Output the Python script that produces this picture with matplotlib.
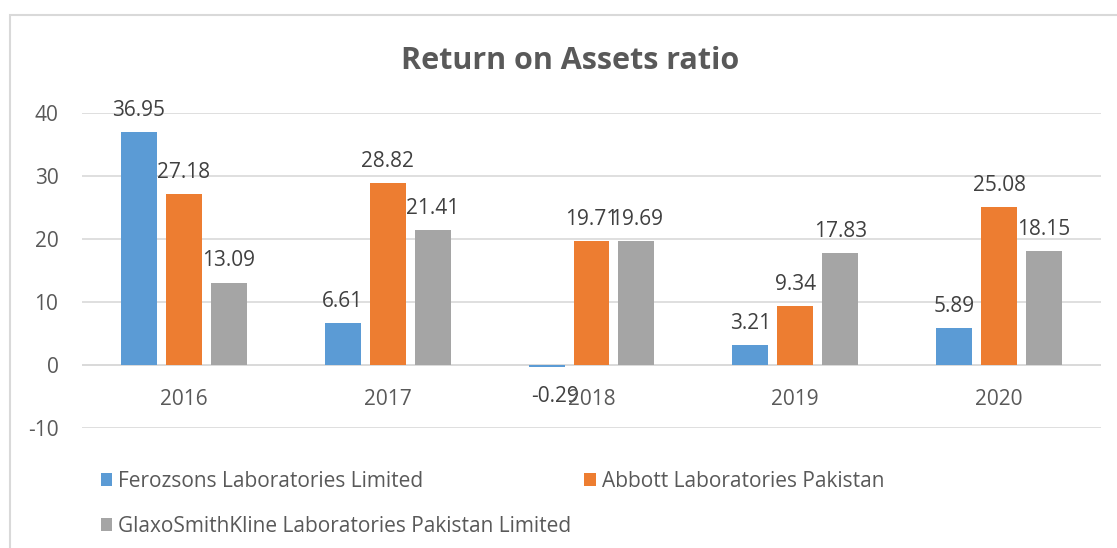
import matplotlib
matplotlib.use("Agg")
import matplotlib.pyplot as plt
from matplotlib.patches import Rectangle
import numpy as np

years = ["2016", "2017", "2018", "2019", "2020"]
series_names = ["Ferozsons Laboratories Limited", "Abbott Laboratories Pakistan",
                "GlaxoSmithKline Laboratories Pakistan Limited"]
ferozsons = [36.95, 6.61, -0.29, 3.21, 5.89]
abbott = [27.18, 28.82, 19.71, 9.34, 25.08]
gsk = [13.09, 21.41, 19.69, 17.83, 18.15]
colors = ["#5B9BD5", "#ED7D31", "#A5A5A5"]
yticks = [-10, 0, 10, 20, 30, 40]

plt.rcParams['font.family'] = ['Open Sans', 'DejaVu Sans']
plt.rcParams['axes.unicode_minus'] = False
txt = "#595959"
FS = 15

W, H = 1117, 548
fig = plt.figure(figsize=(W / 100, H / 100), dpi=100)
fig.patches.append(Rectangle((10 / W, -0.1), 1.2, 1 - 15 / H + 0.1, transform=fig.transFigure,
                             fill=False, edgecolor="#D9D9D9", linewidth=1.5))

ax = fig.add_axes([82 / W, 1 - 428 / H, (1101 - 82) / W, (428 - 113) / H])
x = np.arange(len(years))
bw = 36 / 204
step = 45 / 204
data = [ferozsons, abbott, gsk]
for i, (vals, c, name) in enumerate(zip(data, colors, series_names)):
    pos = x + (i - 1) * step
    ax.bar(pos, vals, width=bw, color=c, label=name, zorder=3)
    for p, v in zip(pos, vals):
        if v >= 0:
            ax.annotate(f"{v:.2f}", (p, v), xytext=(0, 8), textcoords="offset points",
                        ha="center", va="bottom", fontsize=FS, color="#404040")
        else:
            ax.annotate(f"{v:.2f}", (p, v), xytext=(6, -14), textcoords="offset points",
                        ha="center", va="top", fontsize=FS, color="#404040")

ax.set_xlim(-0.5, len(years) - 0.5)
ax.set_ylim(-10, 40)
ax.set_yticks(yticks)
ax.yaxis.grid(True, color="#D9D9D9", linewidth=1.2, zorder=0)
for s in ax.spines.values():
    s.set_visible(False)
ax.tick_params(axis="y", length=0, labelsize=FS, labelcolor=txt, pad=17)
ax.set_xticks(x)
ax.set_xticklabels([])
ax.tick_params(axis="x", length=0)
for xi, yr in zip(x, years):
    ax.annotate(yr, (xi, 0), xytext=(0, -17), textcoords="offset points",
                ha="center", va="top", fontsize=FS, color=txt)
ax.axhline(0, color="#D9D9D9", linewidth=1.2, zorder=1)

fig.text(570 / W, 1 - 61 / H, "Return on Assets ratio", ha="center", va="center",
         fontsize=22, fontweight="bold", color=txt)

handles, labels = ax.get_legend_handles_labels()
order = [0, 2, 1]
leg = fig.legend([handles[k] for k in order], [labels[k] for k in order],
                 loc="upper left", bbox_to_anchor=(82 / W, 1 - 452 / H),
                 ncol=2, frameon=False, fontsize=FS, labelcolor=txt,
                 handlelength=0.55, handleheight=0.55, handletextpad=0.3,
                 columnspacing=0.6, labelspacing=1.15)

fig.savefig("out.png", dpi=100)
